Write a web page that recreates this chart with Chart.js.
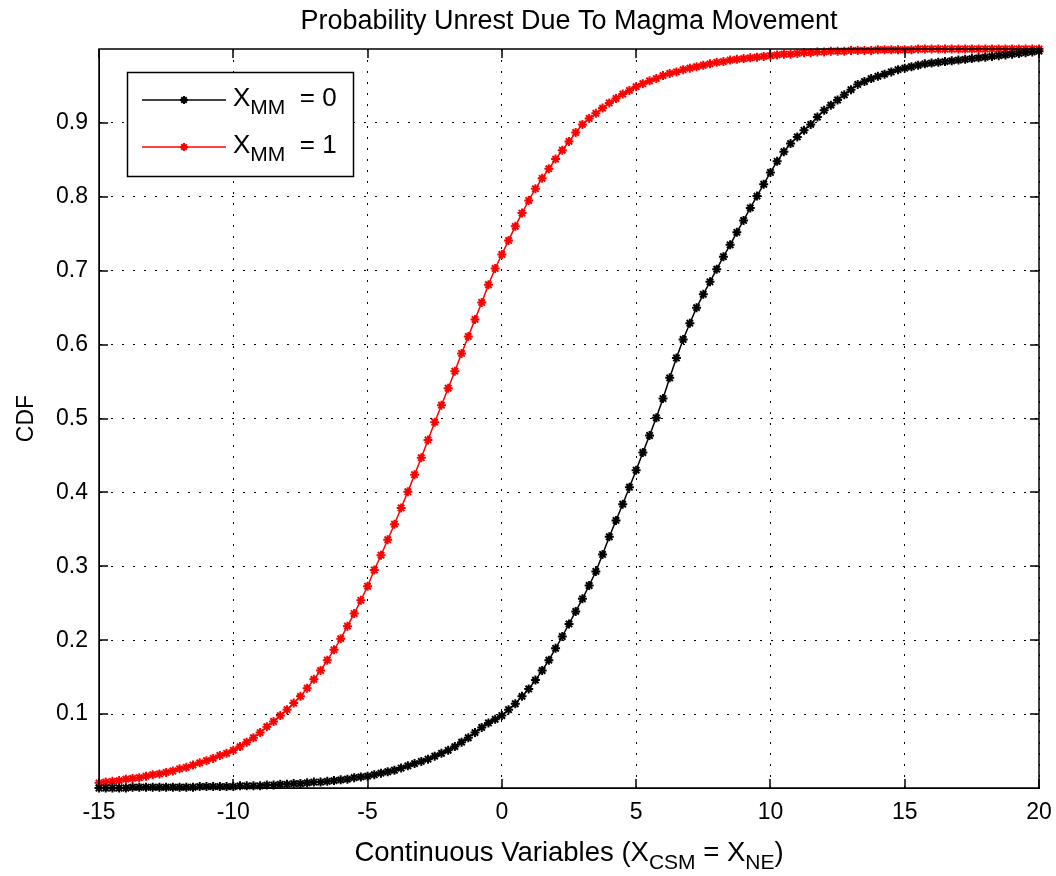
<!DOCTYPE html>
<html>
<head>
<meta charset="utf-8">
<script src="https://cdn.jsdelivr.net/npm/chart.js@4.4.1/dist/chart.umd.min.js"></script>
<style>
  html, body { margin: 0; padding: 0; background: #fff; }
  #wrap { width: 1056px; height: 876px; }
</style>
</head>
<body>
<div id="wrap"><canvas id="cdfChart"></canvas></div>
<script>
// x grid of the sampled CDFs (-15 .. 20, step 0.25)
const xStart = -15;
const xStep = 0.25;

// X_MM = 0 (black)
const cdfMM0 = [
  0.000, 0.000, 0.000, 0.000,
  0.000, 0.001, 0.001, 0.001,
  0.001, 0.001, 0.001, 0.001,
  0.001, 0.001, 0.001, 0.002,
  0.002, 0.002, 0.002, 0.002,
  0.002, 0.003, 0.003, 0.003,
  0.003, 0.004, 0.004, 0.005,
  0.005, 0.006, 0.006, 0.007,
  0.008, 0.008, 0.009, 0.010,
  0.011, 0.012, 0.014, 0.015,
  0.016, 0.018, 0.020, 0.022,
  0.024, 0.027, 0.030, 0.033,
  0.036, 0.039, 0.043, 0.047,
  0.051, 0.056, 0.062, 0.068,
  0.075, 0.082, 0.088, 0.093,
  0.098, 0.106, 0.114, 0.124,
  0.134, 0.146, 0.159, 0.173,
  0.189, 0.205, 0.222, 0.239,
  0.256, 0.274, 0.293, 0.316,
  0.340, 0.362, 0.384, 0.407,
  0.430, 0.454, 0.477, 0.501,
  0.527, 0.555, 0.582, 0.607,
  0.629, 0.650, 0.668, 0.685,
  0.702, 0.719, 0.735, 0.752,
  0.768, 0.785, 0.801, 0.817,
  0.833, 0.848, 0.861, 0.872,
  0.881, 0.890, 0.898, 0.908,
  0.917, 0.924, 0.931, 0.938,
  0.945, 0.952, 0.956, 0.960,
  0.963, 0.966, 0.969, 0.972,
  0.974, 0.976, 0.978, 0.980,
  0.981, 0.982, 0.983, 0.984,
  0.985, 0.986, 0.987, 0.988,
  0.989, 0.990, 0.991, 0.992,
  0.993, 0.994, 0.995, 0.996,
  0.997
];

// X_MM = 1 (red)
const cdfMM1 = [
  0.007, 0.008, 0.009, 0.010,
  0.012, 0.013, 0.014, 0.016,
  0.018, 0.019, 0.021, 0.023,
  0.026, 0.028, 0.031, 0.034,
  0.037, 0.040, 0.044, 0.047,
  0.051, 0.056, 0.062, 0.068,
  0.075, 0.083, 0.090, 0.098,
  0.106, 0.115, 0.124, 0.135,
  0.147, 0.159, 0.173, 0.187,
  0.202, 0.219, 0.236, 0.254,
  0.273, 0.295, 0.315, 0.336,
  0.357, 0.379, 0.401, 0.424,
  0.447, 0.471, 0.495, 0.518,
  0.541, 0.564, 0.588, 0.611,
  0.634, 0.657, 0.681, 0.703,
  0.722, 0.741, 0.760, 0.778,
  0.795, 0.811, 0.825, 0.838,
  0.851, 0.863, 0.875, 0.887,
  0.898, 0.906, 0.913, 0.920,
  0.927, 0.933, 0.939, 0.944,
  0.949, 0.953, 0.957, 0.960,
  0.964, 0.967, 0.969, 0.972,
  0.974, 0.976, 0.978, 0.980,
  0.982, 0.983, 0.985, 0.986,
  0.987, 0.988, 0.989, 0.990,
  0.991, 0.992, 0.993, 0.993,
  0.994, 0.995, 0.995, 0.996,
  0.996, 0.997, 0.997, 0.997,
  0.998, 0.998, 0.998, 0.998,
  0.999, 0.999, 0.999, 0.999,
  0.999, 0.999, 1.000, 1.000,
  1.000, 1.000, 1.000, 1.000,
  1.000, 1.000, 1.000, 1.000,
  1.000, 1.000, 1.000, 1.000,
  1.000, 1.000, 1.000, 1.000,
  1.000
];

const xTicks = [-15, -10, -5, 0, 5, 10, 15, 20];
const yTicks = [0.1, 0.2, 0.3, 0.4, 0.5, 0.6, 0.7, 0.8, 0.9];

const titleText = 'Probability Unrest Due To Magma Movement';
const yLabel = 'CDF';
const xLabelParts = [
  { t: 'Continuous Variables (X' },
  { t: 'CSM', sub: true },
  { t: ' = X' },
  { t: 'NE', sub: true },
  { t: ')' }
];
const legendItems = [
  { color: '#000000', parts: [{ t: 'X' }, { t: 'MM', sub: true }, { t: '  = 0' }] },
  { color: '#ff0000', parts: [{ t: 'X' }, { t: 'MM', sub: true }, { t: '  = 1' }] }
];

const FONT = '"Liberation Sans", Arial, sans-serif';

function toPoints(values) {
  return values.map((v, i) => ({ x: xStart + i * xStep, y: v }));
}

// draws text with subscripts
function drawRich(ctx, parts, x, y, align, size, subSize) {
  let total = 0;
  parts.forEach(p => {
    ctx.font = (p.sub ? subSize : size) + 'px ' + FONT;
    p.w = ctx.measureText(p.t).width;
    total += p.w;
  });
  let cx = align === 'center' ? x - total / 2 : x;
  ctx.textAlign = 'left';
  ctx.textBaseline = 'alphabetic';
  parts.forEach(p => {
    ctx.font = (p.sub ? subSize : size) + 'px ' + FONT;
    ctx.fillText(p.t, cx, p.sub ? y + 8 : y);
    cx += p.w;
  });
}

function drawStar(ctx, x, y, r, color) {
  ctx.save();
  ctx.strokeStyle = color;
  ctx.lineWidth = 2;
  ctx.beginPath();
  ctx.moveTo(x - r, y); ctx.lineTo(x + r, y);
  ctx.moveTo(x, y - r); ctx.lineTo(x, y + r);
  const d = r * 0.7;
  ctx.moveTo(x - d, y - d); ctx.lineTo(x + d, y + d);
  ctx.moveTo(x - d, y + d); ctx.lineTo(x + d, y - d);
  ctx.stroke();
  ctx.restore();
}

// axes box, inward ticks, labels and legend (matlab style)
const decorPlugin = {
  id: 'decor',
  afterDraw(chart) {
    const ctx = chart.ctx;
    const a = chart.chartArea;
    const xs = chart.scales.x, ys = chart.scales.y;
    ctx.save();
    ctx.strokeStyle = '#000';
    ctx.lineWidth = 1.5;
    ctx.strokeRect(a.left, a.top, a.right - a.left, a.bottom - a.top);

    const tl = 9;
    ctx.lineWidth = 1.5;
    ctx.beginPath();
    xTicks.forEach(v => {
      const px = Math.round(xs.getPixelForValue(v));
      ctx.moveTo(px, a.bottom); ctx.lineTo(px, a.bottom - tl);
      ctx.moveTo(px, a.top); ctx.lineTo(px, a.top + tl);
    });
    yTicks.forEach(v => {
      const py = Math.round(ys.getPixelForValue(v));
      ctx.moveTo(a.left, py); ctx.lineTo(a.left + tl, py);
      ctx.moveTo(a.right, py); ctx.lineTo(a.right - tl, py);
    });
    ctx.stroke();

    ctx.fillStyle = '#000';
    // title
    ctx.font = '27px ' + FONT;
    ctx.textAlign = 'center';
    ctx.textBaseline = 'middle';
    ctx.fillText(titleText, (a.left + a.right) / 2, 22);

    // y label
    ctx.save();
    ctx.translate(27, (a.top + a.bottom) / 2);
    ctx.rotate(-Math.PI / 2);
    ctx.font = '23px ' + FONT;
    ctx.fillText(yLabel, 0, 0);
    ctx.restore();

    // x label
    drawRich(ctx, xLabelParts, (a.left + a.right) / 2, 861, 'center', 27.5, 21);

    // legend
    const lx = 127, ly = 72, lw = 226, lh = 104;
    ctx.fillStyle = '#fff';
    ctx.fillRect(lx, ly, lw, lh);
    ctx.strokeStyle = '#000';
    ctx.lineWidth = 1.5;
    ctx.strokeRect(lx + 0.5, ly + 0.5, lw, lh);
    legendItems.forEach((it, i) => {
      const ry = 100 + i * 47;
      ctx.strokeStyle = it.color;
      ctx.lineWidth = 1.5;
      ctx.beginPath();
      ctx.moveTo(142, ry); ctx.lineTo(226, ry);
      ctx.stroke();
      drawStar(ctx, 184, ry, 4, it.color);
      ctx.fillStyle = '#000';
      drawRich(ctx, it.parts, 233, ry + 6, 'left', 26, 21);
    });
    ctx.restore();
  }
};

new Chart(document.getElementById('cdfChart'), {
  type: 'line',
  data: {
    datasets: [
      {
        label: 'X_MM = 0',
        data: toPoints(cdfMM0),
        borderColor: '#000000',
        backgroundColor: '#000000',
        borderWidth: 1.5,
        pointStyle: 'star',
        pointRadius: 4.5,
        pointBorderWidth: 2,
        clip: false
      },
      {
        label: 'X_MM = 1',
        data: toPoints(cdfMM1),
        borderColor: '#ff0000',
        backgroundColor: '#ff0000',
        borderWidth: 1.5,
        pointStyle: 'star',
        pointRadius: 4.5,
        pointBorderWidth: 2,
        clip: false
      }
    ]
  },
  options: {
    responsive: true,
    maintainAspectRatio: false,
    animation: false,
    layout: { padding: { top: 49, right: 17, left: 0, bottom: 0 } },
    plugins: {
      legend: { display: false },
      title: { display: false },
      tooltip: { enabled: false }
    },
    scales: {
      x: {
        type: 'linear',
        min: -15,
        max: 20,
        afterFit: s => { s.height = 88; s.paddingLeft = 0; s.paddingRight = 0; },
        afterBuildTicks: s => { s.ticks = xTicks.map(v => ({ value: v })); },
        ticks: {
          color: '#000',
          font: { family: FONT, size: 23 },
          padding: 11,
          maxRotation: 0
        },
        grid: { color: '#000', lineWidth: 1, drawTicks: false },
        border: { display: true, color: '#000', dash: [2, 9] }
      },
      y: {
        min: 0,
        max: 1,
        afterFit: s => { s.width = 99; s.paddingTop = 0; s.paddingBottom = 0; },
        afterBuildTicks: s => { s.ticks = yTicks.map(v => ({ value: v })); },
        ticks: {
          color: '#000',
          font: { family: FONT, size: 23 },
          padding: 11,
          callback: v => v.toFixed(1)
        },
        grid: { color: '#000', lineWidth: 1, drawTicks: false },
        border: { display: true, color: '#000', dash: [2, 9] }
      }
    }
  },
  plugins: [decorPlugin]
});
</script>
</body>
</html>
